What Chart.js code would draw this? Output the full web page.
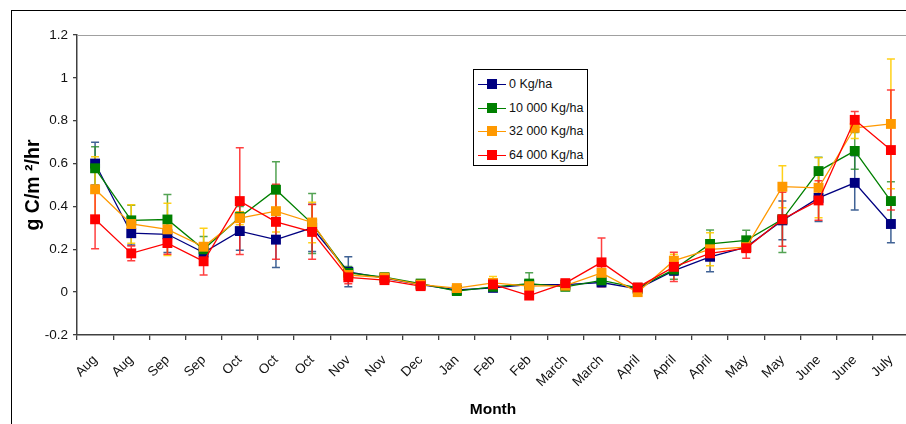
<!DOCTYPE html>
<html>
<head>
<meta charset="utf-8">
<script src="https://cdn.jsdelivr.net/npm/chart.js@4"></script>
<style>
    body { margin: 0; background: #fff; overflow: hidden; }
    #wrap { position: relative; width: 906px; height: 424px; overflow: hidden; }
    #frame { position: absolute; left: 11px; top: 10px; width: 1000px; height: 1000px; border: 1px solid #000; }
    canvas { position: absolute; left: 0; top: 0; }
    #legenda { position: absolute; left: 473px; top: 69px; width: 113px; height: 95px; border: 1px solid #000;
        background: #fff; font-family: 'Liberation Sans', Arial, sans-serif; font-size: 12.5px; color: #111; }
    .item { position: absolute; left: 4px; height: 16px; }
    .item .linha { position: absolute; left: 0; top: 8px; width: 28px; height: 1px; }
    .item .quad { position: absolute; left: 9px; top: 3px; width: 10px; height: 10px; }
    .item span { position: absolute; left: 31px; top: 0; white-space: nowrap; line-height: 16px; }
</style>
</head>
<body>
<div id="wrap">
    <div id="frame"></div>
    <canvas id="grafico" width="916" height="424"></canvas>
    <div id="legenda"></div>
</div>
<script>
// Meses (eixo X)
const meses = ['Aug', 'Aug', 'Sep', 'Sep', 'Oct', 'Oct', 'Oct', 'Nov', 'Nov', 'Dec', 'Jan', 'Feb', 'Feb',
    'March', 'March', 'April', 'April', 'April', 'May', 'May', 'June', 'June', 'July'];

// Séries
const nomesSeries = ['0 Kg/ha', '10 000 Kg/ha', '32 000 Kg/ha', '64 000 Kg/ha'];

const dose0 = [0.60, 0.275, 0.27, 0.185, 0.285, 0.245, 0.30, 0.095, 0.065, 0.035, 0.01, 0.02, 0.035,
    0.035, 0.045, 0.015, 0.10, 0.165, 0.21, 0.335, 0.44, 0.51, 0.318];
const dose10000 = [0.578, 0.335, 0.339, 0.20, 0.35, 0.478, 0.32, 0.09, 0.07, 0.04, 0.005, 0.025, 0.04,
    0.025, 0.055, 0.02, 0.105, 0.225, 0.242, 0.34, 0.565, 0.659, 0.425];
const dose32000 = [0.48, 0.318, 0.293, 0.212, 0.345, 0.378, 0.325, 0.08, 0.068, 0.035, 0.019, 0.043, 0.028,
    0.03, 0.09, 0.0, 0.147, 0.20, 0.21, 0.492, 0.487, 0.767, 0.785];
const dose64000 = [0.34, 0.181, 0.229, 0.144, 0.425, 0.328, 0.281, 0.069, 0.056, 0.028, null, 0.036, -0.016,
    0.042, 0.139, 0.022, 0.118, 0.181, 0.205, 0.34, 0.428, 0.804, 0.663];

// Barras de erro (+/-)
const erro0 = [0.10, 0.055, 0.085, 0.02, 0.09, 0.13, 0.11, 0.07, 0.02, 0.01, 0.01, 0.01, 0.01,
    0.01, 0.01, 0.01, 0.02, 0.07, 0.02, 0.09, 0.11, 0.127, 0.087];
const erro10000 = [0.10, 0.07, 0.117, 0.06, 0.05, 0.13, 0.14, 0.03, 0.01, 0.01, 0.01, 0.01, 0.05,
    0.01, 0.01, 0.01, 0.045, 0.065, 0.047, 0.155, 0.065, 0.086, 0.09];
const erro32000 = [0.152, 0.09, 0.122, 0.086, 0.03, 0.097, 0.095, 0.02, 0.01, 0.01, 0.01, 0.03, 0.015,
    0.01, 0.02, 0.01, 0.03, 0.077, 0.02, 0.098, 0.14, 0.05, 0.303];
const erro64000 = [0.137, 0.034, 0.052, 0.064, 0.249, 0.175, 0.128, 0.03, 0.015, 0.01, null, 0.01, 0.01,
    0.01, 0.114, 0.01, 0.068, 0.03, 0.047, 0.126, 0.092, 0.039, 0.28];

// Escala Y
const yMin = -0.2;
const yMax = 1.2;
const yPasso = 0.2;

const cores = ['#000080', '#008000', '#FF9900', '#FF0000'];
const coresErro = ['rgba(30,70,130,0.85)', 'rgba(40,140,40,0.8)', 'rgba(255,204,0,0.9)', 'rgba(255,30,30,0.85)'];
const valores = [dose0, dose10000, dose32000, dose64000];
const erros = [erro0, erro10000, erro32000, erro64000];

const fonte = "'Liberation Sans', Arial, sans-serif";

// Plugin para barras de erro e borda superior
const barrasErro = {
    id: 'barrasErro',
    beforeDatasetsDraw(chart) {
        const ctx = chart.ctx;
        const area = chart.chartArea;
        ctx.save();
        ctx.strokeStyle = '#a0a0a0';
        ctx.lineWidth = 1;
        ctx.beginPath();
        ctx.moveTo(area.left, area.top + 0.5);
        ctx.lineTo(area.right, area.top + 0.5);
        ctx.stroke();

        const x = chart.scales.x;
        const y = chart.scales.y;
        chart.data.datasets.forEach((ds) => {
            ctx.strokeStyle = coresErro[ds.serie];
            ctx.lineWidth = 1.5;
            ds.data.forEach((v, j) => {
                const e = erros[ds.serie][j];
                if (v === null || e === null) return;
                const px = x.getPixelForValue(j);
                const top = y.getPixelForValue(v + e);
                const bot = y.getPixelForValue(v - e);
                ctx.beginPath();
                ctx.moveTo(px, top);
                ctx.lineTo(px, bot);
                ctx.moveTo(px - 4, top);
                ctx.lineTo(px + 4, top);
                ctx.moveTo(px - 4, bot);
                ctx.lineTo(px + 4, bot);
                ctx.stroke();
            });
        });
        ctx.restore();
    }
};

// Formato dos rótulos do eixo Y (1.2, 1, 0.8 ... 0, -0.2)
function formatarY(valor) {
    const v = Math.round(valor * 10) / 10;
    return (v === 0 ? 0 : v).toString();
}

function gerarGrafico() {
    const ctx = document.getElementById('grafico').getContext('2d');
    new Chart(ctx, {
        type: 'line',
        data: {
            labels: meses,
            datasets: valores.map((dados, i) => ({
                label: nomesSeries[i],
                serie: i,
                data: dados,
                borderColor: cores[i],
                backgroundColor: cores[i],
                borderWidth: 1.3,
                pointStyle: 'rect',
                pointRadius: 7,
                pointBorderWidth: 0,
                tension: 0,
                spanGaps: false,
                order: 3 - i, // vermelho por cima
            })),
        },
        options: {
            responsive: false,
            animation: false,
            layout: { padding: { left: 14, top: 35, right: 3, bottom: 0 } },
            plugins: {
                legend: { display: false },
                tooltip: { enabled: false },
            },
            scales: {
                x: {
                    offset: true,
                    grid: { offset: true, drawOnChartArea: false, tickLength: 5, color: '#404040', lineWidth: 1.3 },
                    border: { color: '#404040', width: 1.5 },
                    ticks: {
                        color: '#111', font: { family: fonte, size: 13.5 },
                        minRotation: 45, maxRotation: 45, autoSkip: false, padding: 12,
                    },
                    title: {
                        display: true, text: 'Month', color: '#000',
                        font: { family: fonte, size: 15.5, weight: 'bold' }, padding: { top: 0, bottom: 5 },
                    },
                    afterFit: (scale) => { scale.height = 89; },
                },
                y: {
                    min: yMin,
                    max: yMax,
                    ticks: {
                        stepSize: yPasso, color: '#111', font: { family: fonte, size: 13.5 }, padding: 5,
                        callback: formatarY,
                    },
                    grid: { drawOnChartArea: false, tickLength: 4, color: '#404040', lineWidth: 1.3 },
                    border: { color: '#404040', width: 1.5 },
                    title: {
                        display: true, text: 'g C/m ²/hr', color: '#000',
                        font: { family: fonte, size: 19.5, weight: 'bold' }, padding: { top: 8, bottom: 0 },
                    },
                    afterFit: (scale) => { scale.width = 63; },
                },
            },
        },
        plugins: [barrasErro],
    });
}

// Legenda em HTML
function gerarLegenda() {
    const box = document.getElementById('legenda');
    box.innerHTML = nomesSeries.map((nome, i) =>
        `<div class="item" style="top:${6 + i * 23.5}px">
            <div class="linha" style="background:${cores[i]}"></div>
            <div class="quad" style="background:${cores[i]}"></div>
            <span>${nome}</span>
        </div>`).join('');
}

gerarGrafico();
gerarLegenda();
</script>
</body>
</html>
